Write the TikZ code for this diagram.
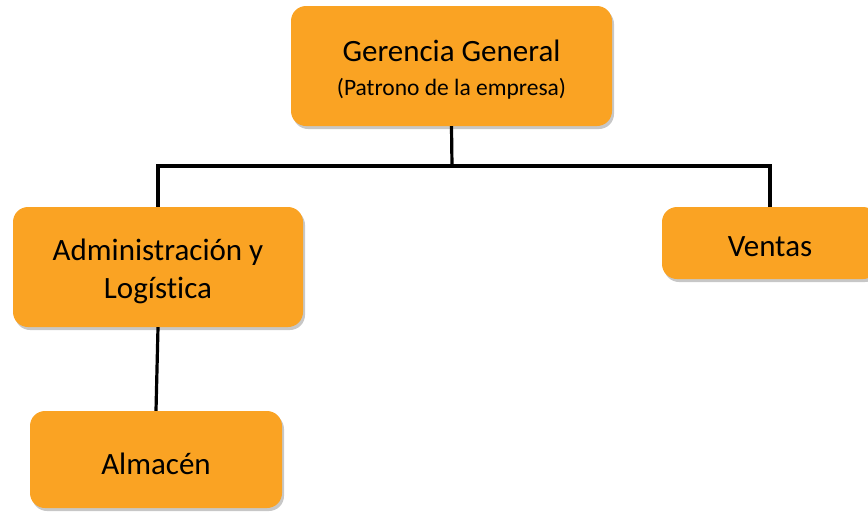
\documentclass[tikz,border=0pt]{standalone}
\usepackage{fontspec}
\setmainfont{Carlito}[Ligatures=NoCommon]
\usetikzlibrary{shadows}
\definecolor{boxorange}{RGB}{250,163,35}
\tikzset{
  orgbox/.style={draw=none, fill=boxorange, rounded corners=15pt,
    inner sep=0pt,
    drop shadow={shadow xshift=2pt, shadow yshift=-3pt, fill=black!40, opacity=0.55}},
  boxtext/.style={label={[font=\fontsize{31}{38}\selectfont, align=center,
    inner sep=0pt, text=black, yshift=-4pt]center:{#1}}},
  link/.style={line width=3.2pt, draw=black, line join=miter}
}
\begin{document}
\begin{tikzpicture}[x=1pt,y=1pt]
  \useasboundingbox (0,0) rectangle (868,-512);
  \node[orgbox, minimum width=321pt, minimum height=120pt,
    boxtext={Gerencia General\\[-4pt]{\fontsize{23.5}{28}\selectfont (Patrono de la empresa)}}]
    (g) at (451.5,-66) {};
  \node[orgbox, minimum width=290pt, minimum height=120pt,
    boxtext={Administración y\\ Logística}] (a) at (158,-267) {};
  \node[orgbox, minimum width=216pt, minimum height=72pt,
    boxtext={Ventas}] (v) at (770,-243) {};
  \node[orgbox, minimum width=252pt, minimum height=97pt,
    boxtext={Almacén}] (m) at (156,-459.5) {};
  \coordinate (j) at (452,-166);
  \draw[link] (g.south) -- (j);
  \draw[link] (a.north) |- (j) -| (v.north);
  \draw[link] (a.south) -- (m.north);
\end{tikzpicture}
\end{document}
